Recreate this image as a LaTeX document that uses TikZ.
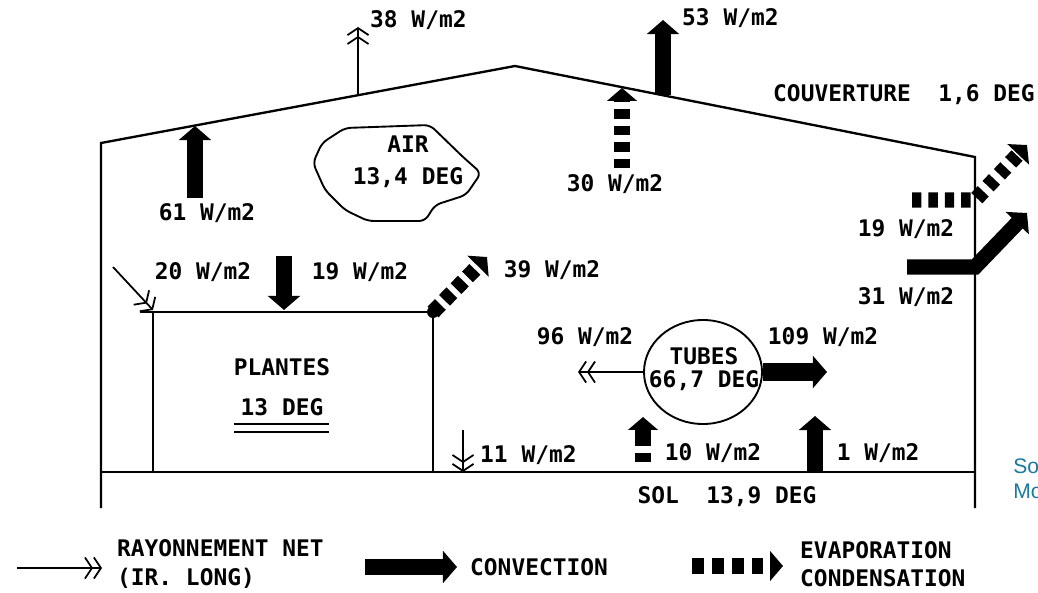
\documentclass[tikz,border=0pt]{standalone}
\usepackage{fontspec}
\usepackage{tikz}
\usetikzlibrary{arrows.meta, shapes.geometric}
\newfontfamily\pixfam{DejaVu Sans Mono}
\newfontfamily\notefam{Liberation Sans}
\definecolor{noteteal}{RGB}{26,122,158}

\begin{document}
\begin{tikzpicture}[
        x=0.3mm, y=-0.3mm,
        wall/.style={line width=2pt},
        label/.style={font=\pixfam\bfseries\fontsize{19.5}{23}\selectfont, inner sep=0pt, align=center},
        radiation/.style={line width=1.5pt,
            -{Straight Barb[length=6pt, width=18pt, line width=1.5pt] Straight Barb[length=6pt, width=18pt, line width=1.5pt]}},
        convection/.style={line width=13pt, -{Triangle[length=12pt, width=27pt]}},
        evaporation/.style={line width=13pt, dash pattern=on 8pt off 6pt, -{Triangle[length=11pt, width=25pt]}},
        tubes/.style={ellipse, draw, line width=1.6pt, minimum width=35.4mm, minimum height=31.2mm, inner sep=0pt}
    ]
        \useasboundingbox (0,0) rectangle (1038,592);
        \clip (0,0) rectangle (1038,592);

        % Greenhouse outline
        \coordinate (wallL top) at (101,143);
        \coordinate (wallL bot) at (101,508);
        \coordinate (ridge) at (515,66);
        \coordinate (wallR top) at (975,157);
        \coordinate (wallR bot) at (975,508);
        \coordinate (soil L) at (101,472);
        \coordinate (soil R) at (975,472);
        \draw[wall] (wallL bot) -- (wallL top) -- (ridge) -- (wallR top) -- (wallR bot);
        \draw[wall] (soil L) -- (soil R);

        % Plants block
        \coordinate (crop TL) at (140,312);
        \coordinate (crop TR) at (433,312);
        \coordinate (crop BR) at (433,472);
        \coordinate (crop L top) at (153,312);
        \coordinate (crop L bot) at (153,472);
        \draw[wall] (crop TL) -- (crop TR) -- (crop BR);
        \draw[wall] (crop L top) -- (crop L bot);
        \fill (crop TR) circle (6);

        % Air cloud
        \draw[line width=1.6pt, rounded corners=5pt] (322,143) -- (345,128) -- (430,125) -- (463,157)
            -- (481,173) -- (466,195) -- (435,205) -- (425,221) -- (368,221) -- (345,210)
            -- (325,190) -- (313,163) -- cycle;
        \node[label, font=\pixfam\bfseries\fontsize{19.5}{27}\selectfont] (air) at (408,162) {AIR\\13,4 DEG};

        % Texts
        \node[label, anchor=west] (cover) at (773,95) {COUVERTURE\ \ 1,6 DEG};
        \node[label] (plants) at (282,367) {PLANTES};
        \node[label] (plantsdeg) at (282,407) {13 DEG};
        \node[label] (soil) at (727,497) {SOL\ \ 13,9 DEG};
        \draw[line width=1.6pt] (234,424) -- (329,424);
        \draw[line width=1.6pt] (234,432) -- (329,432);

        % Roof fluxes
        \coordinate (ray38 s) at (358,95);
        \coordinate (ray38 e) at (358,27);
        \coordinate (cv53 s) at (663,95);
        \coordinate (cv53 e) at (663,20);
        \coordinate (cv61 s) at (195,198);
        \coordinate (cv61 e) at (195,126);
        \coordinate (ev30 s) at (622,168);
        \coordinate (ev30 e) at (622,88);
        \draw[radiation] (ray38 s) -- (ray38 e);
        \draw[convection] (cv53 s) -- (cv53 e);
        \draw[convection] (cv61 s) -- (cv61 e);
        \draw[evaporation] (ev30 s) -- (ev30 e);
        \node[label, anchor=west] (f38) at (370,20) {38 W/m2};
        \node[label, anchor=west] (f53) at (682,18) {53 W/m2};
        \node[label] (f61) at (207,213) {61 W/m2};
        \node[label] (f30) at (615,184) {30 W/m2};

        % Side wall fluxes
        \coordinate (ev19 s) at (912,200);
        \coordinate (ev19 m) at (975,200);
        \coordinate (ev19 e) at (1027,145);
        \coordinate (cv31 s) at (907,267);
        \coordinate (cv31 m) at (975,267);
        \coordinate (cv31 e) at (1027,213);
        \draw[evaporation] (ev19 s) -- (ev19 m) -- (ev19 e);
        \draw[convection] (cv31 s) -- (cv31 m) -- (cv31 e);
        \node[label] (f19w) at (906,229) {19 W/m2};
        \node[label] (f31) at (906,297) {31 W/m2};

        % Plant fluxes
        \coordinate (ray20 s) at (113,267);
        \coordinate (ray20 e) at (153,310);
        \coordinate (cv19 s) at (284,256);
        \coordinate (cv19 e) at (284,310);
        \coordinate (ev39 e) at (487,257);
        \coordinate (ray11 s) at (463,430);
        \coordinate (ray11 e) at (463,472);
        \draw[radiation] (ray20 s) -- (ray20 e);
        \draw[convection] (cv19 s) -- (cv19 e);
        \draw[evaporation, dash pattern=on 9pt off 5pt] (crop TR) -- (ev39 e);
        \draw[radiation] (ray11 s) -- (ray11 e);
        \node[label] (f20) at (203,272) {20 W/m2};
        \node[label] (f19p) at (360,272) {19 W/m2};
        \node[label] (f39) at (552,270) {39 W/m2};
        \node[label, anchor=west] (f11) at (480,455) {11 W/m2};

        % Heating tubes
        \node[tubes] (tubes) at (703,372) {};
        \node[label, font=\pixfam\bfseries\fontsize{19.5}{19}\selectfont] (tubestxt) at (704,369) {TUBES\\66,7 DEG};
        \coordinate (ray96 e) at (578,372);
        \coordinate (cv109 e) at (827,372);
        \coordinate (ev10 s) at (643,462);
        \coordinate (ev10 e) at (643,417);
        \coordinate (cv1 s) at (815,472);
        \coordinate (cv1 e) at (815,416);
        \draw[radiation] (tubes.west) -- (ray96 e);
        \draw[convection, line width=16pt] (tubes.east) -- (cv109 e);
        \draw[evaporation, dash pattern=on 8pt off 6pt on 14pt off 1pt] (ev10 s) -- (ev10 e);
        \draw[convection] (cv1 s) -- (cv1 e);
        \node[label] (f96) at (585,337) {96 W/m2};
        \node[label] (f109) at (823,337) {109 W/m2};
        \node[label] (f10) at (713,453) {10 W/m2};
        \node[label] (f1) at (878,453) {1 W/m2};

        % Legend
        \coordinate (leg ray s) at (17,568);
        \coordinate (leg ray e) at (102,568);
        \coordinate (leg cv s) at (365,567);
        \coordinate (leg cv e) at (457,567);
        \coordinate (leg ev s) at (692,566);
        \coordinate (leg ev e) at (783,566);
        \draw[radiation] (leg ray s) -- (leg ray e);
        \draw[convection] (leg cv s) -- (leg cv e);
        \draw[evaporation, dash pattern=on 10pt off 7pt] (leg ev s) -- (leg ev e);
        \node[label, anchor=west, align=left, font=\pixfam\bfseries\fontsize{19.5}{24}\selectfont] (leg ray) at (117,564) {RAYONNEMENT NET\\(IR. LONG)};
        \node[label, anchor=west] (leg cv) at (470,567) {CONVECTION};
        \node[label, anchor=west, align=left, font=\pixfam\bfseries\fontsize{19.5}{24}\selectfont] (leg ev) at (800,564) {EVAPORATION\\CONDENSATION};

        % Cut note at the edge
        \node[font=\notefam\fontsize{18}{21}\selectfont, text=noteteal, anchor=west, align=left, inner sep=0pt] (note) at (1013,479) {So\\Mo};
    \end{tikzpicture}
\end{document}
